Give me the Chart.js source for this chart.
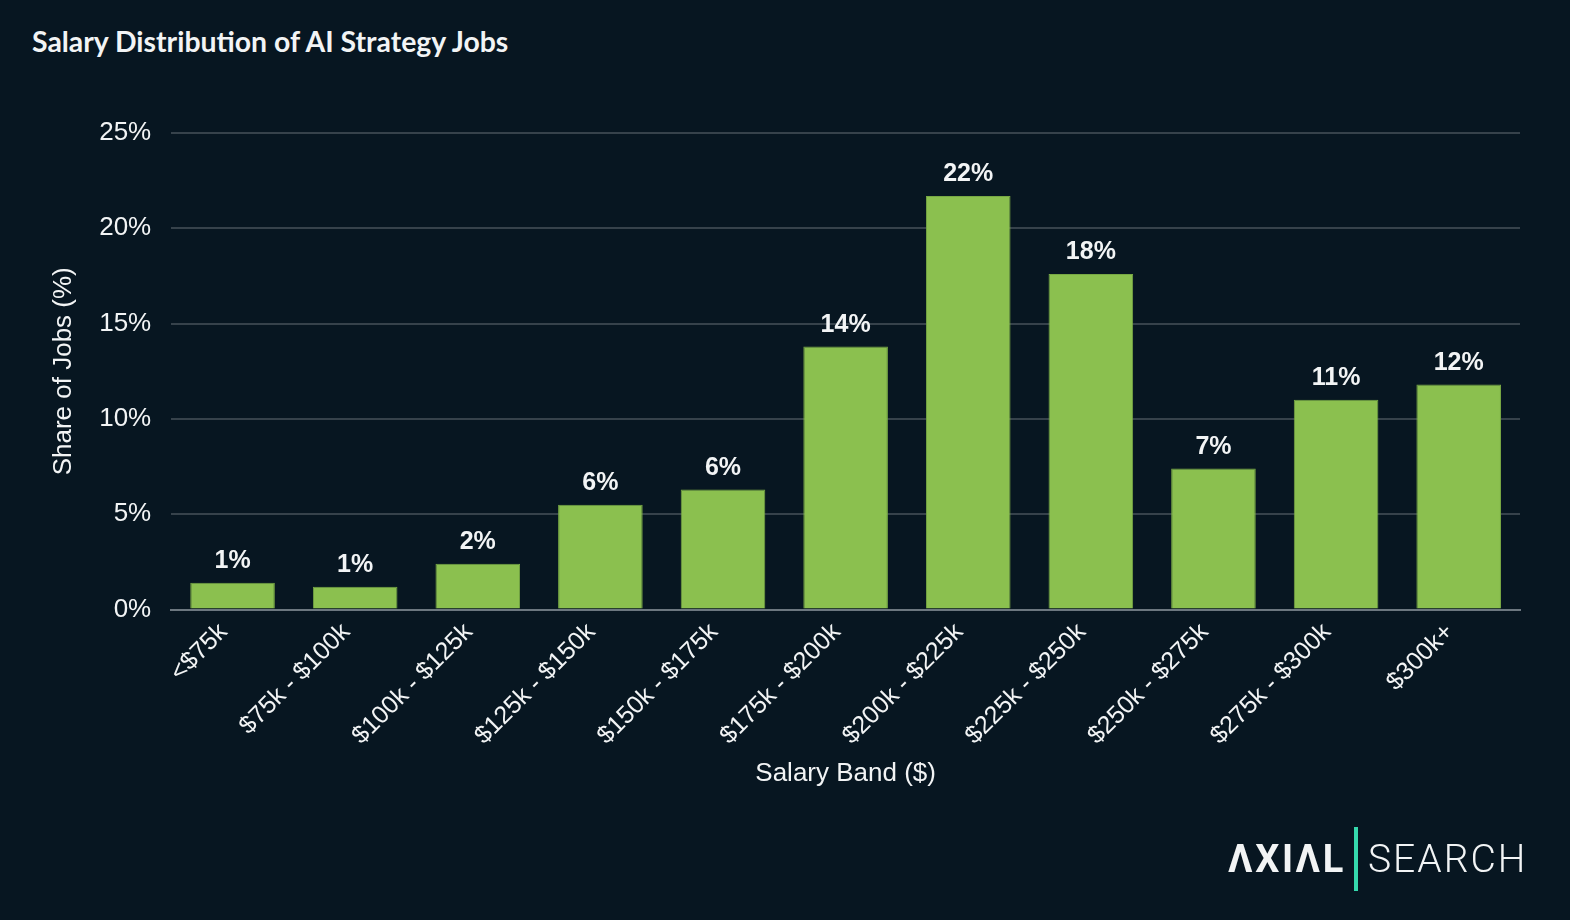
<!DOCTYPE html>
<html>
<head>
<meta charset="utf-8">
<script src="https://cdn.jsdelivr.net/npm/chart.js@4"></script>
<style>
  html, body { margin: 0; padding: 0; background: #071621; }
  body { width: 1570px; height: 920px; position: relative; overflow: hidden; }
  #title {
    position: absolute; left: 32px; top: 24px;
    font-family: Lato, sans-serif; font-weight: 700; font-size: 28.4px;
    color: #f2f4f5;
  }
  #wrap { position: absolute; left: 0; top: 0; width: 1570px; height: 920px; }
  #logo {
    position: absolute; left: 1228px; top: 826px; height: 66px;
    display: flex; align-items: center; color: #f2f4f5;
  }
  #logo .axial { font-family: Roboto, sans-serif; font-weight: 700; font-size: 38px; letter-spacing: 2.6px; }
  #logo .bar { width: 4px; height: 64px; background: #35d9ad; margin: 0 10px 0 8px; }
  #logo .search { font-family: Roboto, sans-serif; font-weight: 300; font-size: 39px; letter-spacing: 2px; }
</style>
</head>
<body>
<div id="title">Salary Distribution of AI Strategy Jobs</div>
<div id="wrap"><canvas id="salarychart" width="1570" height="920"></canvas></div>
<div id="logo"><span class="axial">ΛXIΛL</span><span class="bar"></span><span class="search">SEARCH</span></div>
<script>
const bands = ["<$75k", "$75k - $100k", "$100k - $125k", "$125k - $150k", "$150k - $175k",
  "$175k - $200k", "$200k - $225k", "$225k - $250k", "$250k - $275k", "$275k - $300k", "$300k+"];
const shares = [1.4, 1.2, 2.4, 5.5, 6.3, 13.8, 21.7, 17.6, 7.4, 11.0, 11.8];
const yTicks = [0, 5, 10, 15, 20, 25];

const barLabels = {
  id: "barLabels",
  afterDatasetsDraw(chart) {
    const ctx = chart.ctx;
    const meta = chart.getDatasetMeta(0);
    ctx.save();
    ctx.font = "bold 25px 'Liberation Sans', Arial, sans-serif";
    ctx.fillStyle = "#f2f4f5";
    ctx.textAlign = "center";
    ctx.textBaseline = "bottom";
    meta.data.forEach((bar, i) => {
      ctx.fillText(Math.round(shares[i]) + "%", bar.x, bar.y - 9);
    });
    ctx.restore();
  }
};

const ctx = document.getElementById("salarychart");

new Chart(ctx, {
  type: "bar",
  data: {
    labels: bands,
    datasets: [
      {
        label: "Share of Jobs",
        data: shares,
        backgroundColor: "#8bc04f",
        borderColor: "#77a844",
        borderWidth: 1,
        categoryPercentage: 1.0,
        barPercentage: 0.69,
      },
    ],
  },
  options: {
    responsive: false,
    animation: false,
    layout: { padding: { top: 133, left: 48, right: 50, bottom: 127 } },
    plugins: {
      legend: { display: false },
      tooltip: { enabled: false },
    },
    scales: {
      x: {
        grid: { display: false },
        border: { color: "#6c7780", width: 2 },
        ticks: {
          color: "#f2f4f5",
          font: { family: "'Liberation Sans', Arial, sans-serif", size: 25 },
          maxRotation: 45,
          minRotation: 45,
          labelOffset: -9,
          padding: 0,
        },
        title: {
          display: true,
          text: "Salary Band ($)",
          color: "#f2f4f5",
          font: { family: "'Liberation Sans', Arial, sans-serif", size: 26 },
          padding: { top: 7 },
        },
      },
      y: {
        min: 0,
        max: 25,
        afterBuildTicks(axis) {
          axis.ticks = yTicks.map(v => ({ value: v }));
        },
        grid: { color: "#36424b", lineWidth: 2, drawTicks: false },
        border: { display: false },
        ticks: {
          color: "#f2f4f5",
          font: { family: "'Liberation Sans', Arial, sans-serif", size: 26 },
          padding: 20,
          callback: v => v + "%",
        },
        title: {
          display: true,
          text: "Share of Jobs (%)",
          color: "#f2f4f5",
          font: { family: "'Liberation Sans', Arial, sans-serif", size: 26 },
          padding: { top: 0, bottom: 0 },
        },
      },
    },
  },
  plugins: [barLabels],
});
</script>
</body>
</html>
